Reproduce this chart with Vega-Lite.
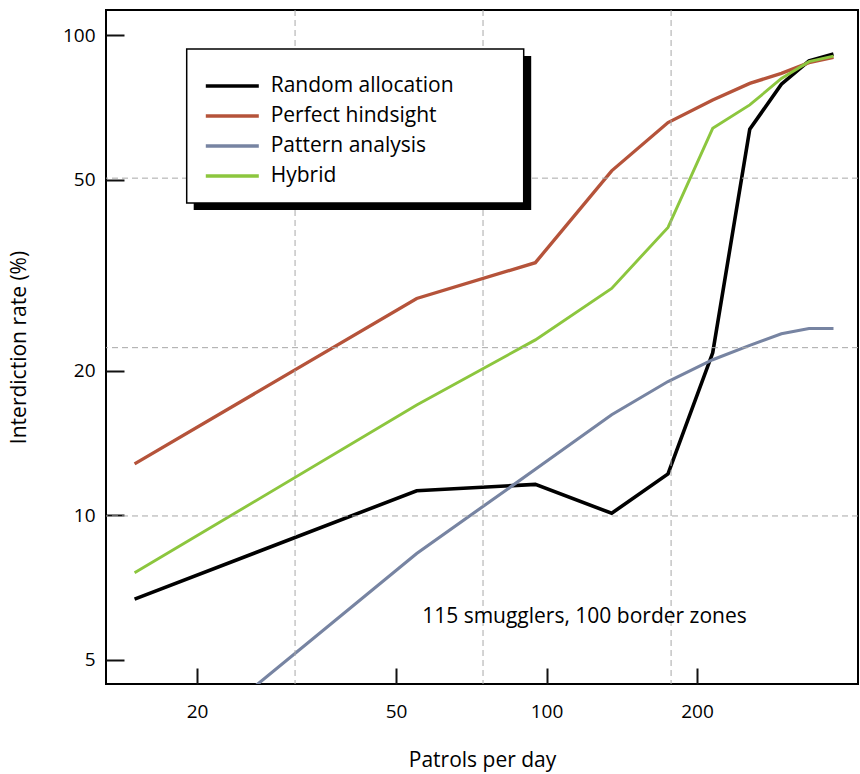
{
  "$schema": "https://vega.github.io/schema/vega-lite/v6.json",
  "width": 752,
  "height": 674,
  "autosize": {"type": "none"},
  "padding": {"left": 106, "top": 10, "right": 2, "bottom": 90},
  "background": "white",
  "config": {
    "font": "Open Sans",
    "view": {"stroke": "black", "strokeWidth": 2},
    "axis": {
      "grid": false,
      "domain": false,
      "tickColor": "#111111",
      "tickWidth": 2,
      "labelFont": "Open Sans",
      "labelColor": "black",
      "labelFontSize": 19,
      "titleFont": "Open Sans",
      "titleFontSize": 21,
      "titleFontWeight": "normal",
      "titleColor": "black"
    }
  },
  "resolve": {"scale": {"color": "independent"}},
  "datasets": {
    "series": [
      {"patrols": 15, "rate": 6.69, "method": "Random allocation"},
      {"patrols": 55, "rate": 11.25, "method": "Random allocation"},
      {"patrols": 95, "rate": 11.6, "method": "Random allocation"},
      {"patrols": 135, "rate": 10.1, "method": "Random allocation"},
      {"patrols": 175, "rate": 12.2, "method": "Random allocation"},
      {"patrols": 215, "rate": 21.8, "method": "Random allocation"},
      {"patrols": 255, "rate": 63.7, "method": "Random allocation"},
      {"patrols": 295, "rate": 79.1, "method": "Random allocation"},
      {"patrols": 335, "rate": 88.5, "method": "Random allocation"},
      {"patrols": 375, "rate": 91.4, "method": "Random allocation"},
      {"patrols": 15, "rate": 12.8, "method": "Perfect hindsight"},
      {"patrols": 55, "rate": 28.3, "method": "Perfect hindsight"},
      {"patrols": 95, "rate": 33.6, "method": "Perfect hindsight"},
      {"patrols": 135, "rate": 52.2, "method": "Perfect hindsight"},
      {"patrols": 175, "rate": 65.8, "method": "Perfect hindsight"},
      {"patrols": 215, "rate": 73.3, "method": "Perfect hindsight"},
      {"patrols": 255, "rate": 79.4, "method": "Perfect hindsight"},
      {"patrols": 295, "rate": 83.3, "method": "Perfect hindsight"},
      {"patrols": 335, "rate": 87.7, "method": "Perfect hindsight"},
      {"patrols": 375, "rate": 90.0, "method": "Perfect hindsight"},
      {"patrols": 15, "rate": 2.74, "method": "Pattern analysis"},
      {"patrols": 55, "rate": 8.33, "method": "Pattern analysis"},
      {"patrols": 95, "rate": 12.47, "method": "Pattern analysis"},
      {"patrols": 135, "rate": 16.2, "method": "Pattern analysis"},
      {"patrols": 175, "rate": 19.0, "method": "Pattern analysis"},
      {"patrols": 215, "rate": 21.1, "method": "Pattern analysis"},
      {"patrols": 255, "rate": 22.6, "method": "Pattern analysis"},
      {"patrols": 295, "rate": 23.9, "method": "Pattern analysis"},
      {"patrols": 335, "rate": 24.5, "method": "Pattern analysis"},
      {"patrols": 375, "rate": 24.5, "method": "Pattern analysis"},
      {"patrols": 15, "rate": 7.59, "method": "Hybrid"},
      {"patrols": 55, "rate": 16.97, "method": "Hybrid"},
      {"patrols": 95, "rate": 23.2, "method": "Hybrid"},
      {"patrols": 135, "rate": 29.7, "method": "Hybrid"},
      {"patrols": 175, "rate": 39.8, "method": "Hybrid"},
      {"patrols": 215, "rate": 64.0, "method": "Hybrid"},
      {"patrols": 255, "rate": 71.6, "method": "Hybrid"},
      {"patrols": 295, "rate": 81.3, "method": "Hybrid"},
      {"patrols": 335, "rate": 88.1, "method": "Hybrid"},
      {"patrols": 375, "rate": 90.5, "method": "Hybrid"}
    ],
    "gridx": [{"gx": 31.41}, {"gx": 74.65}, {"gx": 177.5}],
    "gridy": [{"gy": 9.97}, {"gy": 22.35}, {"gy": 50.4}],
    "note": [{"label": "115 smugglers, 100 border zones"}]
  },
  "layer": [
    {
      "data": {"name": "series"},
      "mark": {"type": "line", "clip": true, "strokeJoin": "miter", "strokeCap": "butt"},
      "encoding": {
        "x": {
          "field": "patrols", "type": "quantitative",
          "scale": {"type": "log", "domain": [13.15, 419.8], "nice": false},
          "axis": {"values": [20, 50, 100, 200], "title": "Patrols per day", "tickSize": -16, "labelPadding": 34, "titlePadding": 28, "labelFlush": false}
        },
        "y": {
          "field": "rate", "type": "quantitative",
          "scale": {"type": "log", "domain": [4.453, 112.9], "nice": false},
          "axis": {"values": [5, 10, 20, 50, 100], "title": "Interdiction rate (%)", "tickSize": -18, "labelPadding": 29, "titlePadding": 33, "labelFlush": false}
        },
        "color": {
          "field": "method", "type": "nominal",
          "scale": {"domain": ["Random allocation", "Perfect hindsight", "Pattern analysis", "Hybrid"], "range": ["#000000", "#b5533a", "#7784a2", "#8cc63e"]},
          "legend": {
            "orient": "none", "legendX": 80.7, "legendY": 39, "title": null,
            "fillColor": "white", "strokeColor": "black",
            "padding": 17, "labelFontSize": 21, "labelFont": "Open Sans", "labelColor": "black", "labelLimit": 600,
            "symbolType": "M-1,0H1.961", "symbolSize": 1282, "symbolStrokeWidth": 3.5,
            "labelOffset": 27, "rowPadding": -2.8, "zindex": 2,
            "labelExpr": "datum.label + '\u2003\u2003\u2009\u2009\u2009\u200B'",
            "encode": {"legend": {"update": {"strokeWidth": {"value": 1.5}}}}
          }
        },
        "strokeWidth": {
          "field": "method", "type": "nominal",
          "scale": {"domain": ["Random allocation", "Perfect hindsight", "Pattern analysis", "Hybrid"], "range": [3.6, 2.9, 2.9, 2.9]},
          "legend": null
        }
      }
    },
    {
      "data": {"name": "gridx"},
      "mark": {"type": "rule", "color": "#a8a8a8", "strokeWidth": 1, "strokeDash": [6, 4]},
      "encoding": {
        "x": {"field": "gx", "type": "quantitative", "scale": {"type": "log", "domain": [13.15, 419.8], "nice": false}}
      }
    },
    {
      "data": {"name": "gridy"},
      "mark": {"type": "rule", "color": "#a8a8a8", "strokeWidth": 1, "strokeDash": [6, 4]},
      "encoding": {
        "y": {"field": "gy", "type": "quantitative", "scale": {"type": "log", "domain": [4.453, 112.9], "nice": false}}
      }
    },
    {
      "data": {"name": "note"},
      "mark": {"type": "text", "align": "left", "baseline": "alphabetic", "fontSize": 21, "font": "Open Sans"},
      "encoding": {
        "text": {"field": "label"},
        "x": {"datum": 56.4, "type": "quantitative", "scale": {"type": "log", "domain": [13.15, 419.8], "nice": false}},
        "y": {"datum": 5.97, "type": "quantitative", "scale": {"type": "log", "domain": [4.453, 112.9], "nice": false}},
        "color": {
          "datum": 1, "type": "quantitative",
          "scale": {"domain": [0, 2], "range": ["#000000", "#000000"]},
          "legend": {
            "orient": "none", "legendX": 87.7, "legendY": 46, "title": null,
            "direction": "horizontal", "gradientLength": 337.5, "gradientThickness": 154,
            "gradientStrokeWidth": 0, "values": [], "padding": 0, "zindex": 1
          }
        }
      }
    }
  ]
}
